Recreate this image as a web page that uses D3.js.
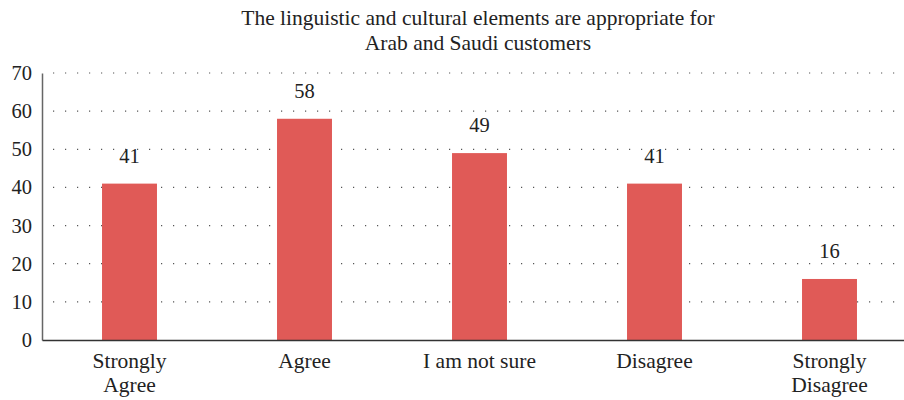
<!DOCTYPE html>
<html><head><meta charset="utf-8">
<script src="https://cdn.jsdelivr.net/npm/d3@7"></script>
<style>body{margin:0;background:#fff}svg{display:block}</style>
</head><body><svg id="c" width="904" height="400"></svg>
<script>
const categories = [["Strongly","Agree"],["Agree"],["I am not sure"],["Disagree"],["Strongly","Disagree"]];
const values = [41, 58, 49, 41, 16];
const yTicks = [0,10,20,30,40,50,60,70];
const titleLines = ["The linguistic and cultural elements are appropriate for","Arab and Saudi customers"];

const svg = d3.select("#c");
const font = "Liberation Serif";
const mLeft = 42, mRight = 917, mTop = 73, mBottom = 340;
const x = d3.scaleBand().domain(d3.range(values.length)).range([mLeft, mRight]).paddingInner(0.686).paddingOuter(0.343);
const y = d3.scaleLinear().domain([0,70]).range([mBottom, mTop]);

// title
svg.append("text").attr("x",478).attr("y",25).attr("text-anchor","middle")
  .attr("font-family",font).attr("font-size",21.5).attr("fill","#222")
  .selectAll("tspan").data(titleLines).join("tspan").attr("x",478).attr("dy",(d,i)=>i?25:0).text(d=>d);

// grid
svg.append("g").selectAll("line").data(yTicks.filter(d=>d>0)).join("line")
  .attr("x1",mLeft+11).attr("x2",904).attr("y1",d=>y(d)).attr("y2",d=>y(d))
  .attr("stroke","#555").attr("stroke-width",1.2).attr("stroke-dasharray","1.2 10.8");

// y axis
const ya = svg.append("g").attr("transform",`translate(${mLeft},0)`)
  .call(d3.axisLeft(y).tickValues(yTicks).tickSize(0).tickPadding(10));
ya.attr("font-family",font).attr("font-size",20.5);
ya.select(".domain").attr("stroke","#666").attr("stroke-width",1.5);
ya.selectAll("text").attr("fill","#222");

// bars
svg.append("g").selectAll("rect").data(values).join("rect")
  .attr("x",(d,i)=>x(i)).attr("width",x.bandwidth())
  .attr("y",d=>y(d)).attr("height",d=>mBottom-y(d)).attr("fill","#e05a57");

// value labels
svg.append("g").selectAll("text").data(values).join("text")
  .attr("x",(d,i)=>x(i)+x.bandwidth()/2).attr("y",d=>y(d)-21)
  .attr("text-anchor","middle").attr("font-family",font).attr("font-size",20.5).attr("fill","#222")
  .text(d=>d);

// x axis
const xa = svg.append("g").attr("transform",`translate(0,${mBottom})`)
  .call(d3.axisBottom(x).tickSize(0).tickFormat(""));
xa.select(".domain").attr("stroke","#333").attr("stroke-width",1.5);
const lab = svg.append("g").selectAll("text").data(categories).join("text")
  .attr("x",(d,i)=>x(i)+x.bandwidth()/2).attr("y",mBottom+28)
  .attr("text-anchor","middle").attr("font-family",font).attr("font-size",21.5).attr("fill","#222");
lab.selectAll("tspan").data((d,i)=>d.map(t=>({t,i}))).join("tspan")
  .attr("x",d=>x(d.i)+x.bandwidth()/2).attr("dy",(d,j)=>j?24:0).text(d=>d.t);
</script></body></html>
